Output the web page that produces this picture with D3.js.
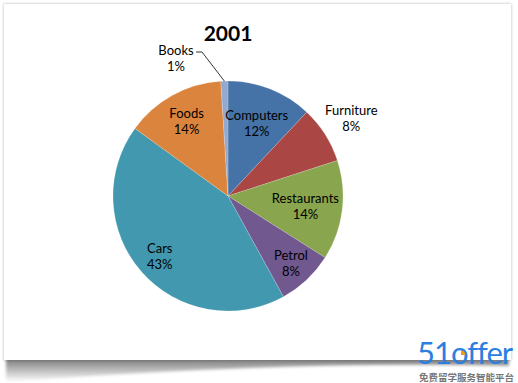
<!DOCTYPE html>
<html>
<head>
<meta charset="utf-8">
<script src="https://cdn.jsdelivr.net/npm/d3@7"></script>
<style>
  body { margin: 0; background: #fff; }
  svg { display: block; }
</style>
</head>
<body>
<svg></svg>
<script>
const title = '2001';
const categories = ['Computers', 'Furniture', 'Restaurants', 'Petrol', 'Cars', 'Foods', 'Books'];
const shares = [12, 8, 14, 8, 43, 14, 1];
const colors = ['#4572A7', '#AA4643', '#89A54E', '#71588F', '#4198AF', '#DB843D', '#93A9CF'];

const width = 518;
const height = 383;
const cx = 228;
const cy = 196;
const radius = 115;

const svg = d3.select('svg')
    .attr('width', width)
    .attr('height', height);

const defs = svg.append('defs');

defs.append('filter')
    .attr('id', 'cardShadow')
    .attr('x', '-5%').attr('y', '-5%').attr('width', '110%').attr('height', '110%')
    .append('feDropShadow')
    .attr('dx', 0).attr('dy', 0)
    .attr('stdDeviation', 1.5)
    .attr('flood-color', '#000')
    .attr('flood-opacity', 0.3);

defs.append('filter')
    .attr('id', 'blur')
    .append('feGaussianBlur')
    .attr('stdDeviation', 1.5);

const grad = defs.append('linearGradient')
    .attr('id', 'curl')
    .attr('x1', 0).attr('y1', 0).attr('x2', 0).attr('y2', 1);
grad.append('stop').attr('offset', '0%').attr('stop-color', '#777');
grad.append('stop').attr('offset', '100%').attr('stop-color', '#fff');

// curled paper shadow under the card
svg.append('path')
    .attr('d', 'M6,358 L509,358 L509,366 Q300,360 6,382 Z')
    .attr('fill', 'url(#curl)')
    .attr('filter', 'url(#blur)');

// white card
svg.append('rect')
    .attr('x', 4)
    .attr('y', 4)
    .attr('width', 507)
    .attr('height', 356)
    .attr('fill', '#fff')
    .attr('filter', 'url(#cardShadow)');

const pie = d3.pie().sort(null).value(d => d.value);
const data = categories.map((c, i) => ({ name: c, value: shares[i], color: colors[i] }));
const arcs = pie(data);

const arc = d3.arc().innerRadius(0).outerRadius(radius);

const g = svg.append('g')
    .attr('transform', 'translate(' + cx + ',' + cy + ')');

g.selectAll('path')
    .data(arcs)
    .enter()
    .append('path')
    .attr('d', arc)
    .attr('fill', d => d.data.color)
    .attr('stroke', '#fff')
    .attr('stroke-opacity', 0.35)
    .attr('stroke-width', 0.5);

svg.append('text')
    .attr('x', cx)
    .attr('y', 41)
    .attr('text-anchor', 'middle')
    .style('font-family', 'Lato, "Open Sans", sans-serif')
    .style('font-weight', 'bold')
    .style('font-size', '21px')
    .style('fill', '#000')
    .text(title);

// "best fit" label distance from centre, per slice
const labelRadius = { Computers: 78, Furniture: 146, Restaurants: 78, Petrol: 92, Cars: 91, Foods: 86 };

const labelPos = d => {
    if (d.data.name === 'Books') return [-52, -138];
    const r = labelRadius[d.data.name];
    return d3.arc().innerRadius(r).outerRadius(r).centroid(d);
};

const labels = g.selectAll('text.lbl')
    .data(arcs)
    .enter()
    .append('text')
    .attr('class', 'lbl')
    .attr('text-anchor', 'middle')
    .style('font-family', 'Lato, "Open Sans", sans-serif')
    .style('font-size', '13px')
    .style('fill', '#000')
    .attr('transform', d => 'translate(' + labelPos(d) + ')');

labels.append('tspan')
    .attr('x', 0)
    .attr('y', -3)
    .text(d => d.data.name);

labels.append('tspan')
    .attr('x', 0)
    .attr('y', 13)
    .text(d => d.data.value + '%');

// leader line for Books
const books = arcs.find(d => d.data.name === 'Books');
const edge = d3.arc().innerRadius(radius).outerRadius(radius).centroid(books);
const bp = labelPos(books);
svg.append('polyline')
    .attr('transform', 'translate(' + cx + ',' + cy + ')')
    .attr('points', [[bp[0] + 20, bp[1] - 6], [bp[0] + 26, bp[1] - 6], edge].map(p => p.join(',')).join(' '))
    .attr('fill', 'none')
    .attr('stroke', '#000')
    .attr('stroke-width', 0.8);

// watermark
const wm = svg.append('g');
wm.append('text')
    .attr('x', 417)
    .attr('y', 364)
    .style('font-family', 'Lato, sans-serif')
    .style('font-size', '31px')
    .style('letter-spacing', '-1px')
    .style('fill', '#2b7fe0')
    .text('51offer');
wm.append('path')
    .attr('transform', 'translate(461,355)')
    .attr('d', d3.arc().innerRadius(0).outerRadius(4.5).startAngle(0).endAngle(Math.PI / 2)())
    .attr('fill', '#f39a1e');
wm.append('text')
    .attr('x', 419)
    .attr('y', 381)
    .style('font-family', '"Noto Sans CJK SC", sans-serif')
    .style('font-size', '9.5px')
    .style('font-weight', 'bold')
    .style('fill', '#777')
    .text('免费留学服务智能平台');
</script>
</body>
</html>
